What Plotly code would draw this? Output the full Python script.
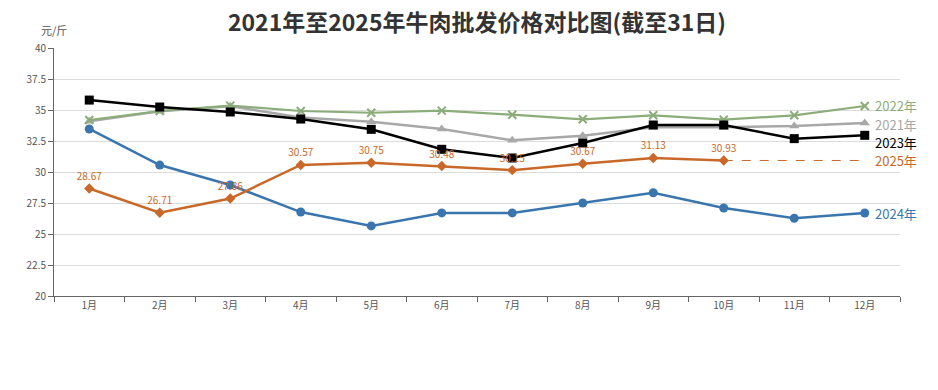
import plotly.graph_objects as go

months = ["1月", "2月", "3月", "4月", "5月", "6月", "7月", "8月", "9月", "10月", "11月", "12月"]
y2021 = [34.1, 34.9, 35.3, 34.4, 34.06, 33.47, 32.56, 32.93, 33.6, 33.6, 33.71, 33.95]
y2022 = [34.19, 34.92, 35.35, 34.92, 34.78, 34.95, 34.62, 34.25, 34.57, 34.22, 34.57, 35.32]
y2023 = [35.8, 35.24, 34.84, 34.27, 33.44, 31.83, 31.13, 32.34, 33.79, 33.79, 32.69, 32.96]
y2024 = [33.47, 30.56, 28.95, 26.77, 25.65, 26.7, 26.7, 27.5, 28.33, 27.1, 26.27, 26.69]
y2025 = [28.67, 26.71, 27.86, 30.57, 30.75, 30.48, 30.15, 30.67, 31.13, 30.93]
yticks = [20, 22.5, 25, 27.5, 30, 32.5, 35, 37.5, 40]

title = "2021年至2025年牛肉批发价格对比图(截至31日)"
unit = "元/斤"

c2021 = "#a8a8a8"
c2022 = "#8cac7a"
c2023 = "#000000"
c2024 = "#3a76ad"
c2025 = "#c8692a"

FONT = "Noto Sans CJK SC"

fig = go.Figure()

fig.add_trace(go.Scatter(x=months, y=y2021, mode="lines+markers", name="2021年",
                         line=dict(color=c2021, width=2.5),
                         marker=dict(symbol="triangle-up", size=9, color=c2021)))
fig.add_trace(go.Scatter(x=months, y=y2022, mode="lines+markers", name="2022年",
                         line=dict(color=c2022, width=2.2),
                         marker=dict(symbol="x-thin", size=8, color=c2022,
                                     line=dict(color=c2022, width=2))))
fig.add_trace(go.Scatter(x=months, y=y2024, mode="lines+markers", name="2024年",
                         line=dict(color=c2024, width=2.5),
                         marker=dict(symbol="circle", size=9, color=c2024)))
fig.add_trace(go.Scatter(x=months, y=y2023, mode="lines+markers", name="2023年",
                         line=dict(color=c2023, width=2.5),
                         marker=dict(symbol="square", size=9, color=c2023)))
# dashed continuation of 2025
fig.add_trace(go.Scatter(x=[months[len(y2025) - 1], months[-1]], y=[y2025[-1], y2025[-1]],
                         mode="lines", line=dict(color=c2025, width=1, dash="dash"),
                         showlegend=False, hoverinfo="skip"))
fig.add_trace(go.Scatter(x=months[:len(y2025)], y=y2025, mode="lines+markers+text", name="2025年",
                         line=dict(color=c2025, width=2.5),
                         marker=dict(symbol="diamond", size=8, color=c2025),
                         text=[f"{v:.2f}" for v in y2025], textposition="top center",
                         textfont=dict(family=FONT, size=10, color=c2025)))

# end labels (small vertical offsets so they don't collide)
ends = [("2022年", y2022[-1], c2022, 0.04), ("2021年", y2021[-1], c2021, -0.12),
        ("2023年", y2023[-1], c2023, -0.56), ("2025年", y2025[-1], c2025, 0.0),
        ("2024年", y2024[-1], c2024, 0)]
annotations = []
for lab, v, col, dy in ends:
    annotations.append(dict(x=months[-1], y=v + dy, xref="x", yref="y", text=lab,
                            showarrow=False, xanchor="left", yanchor="middle", xshift=8,
                            font=dict(family=FONT, size=13, color=col)))
annotations.append(dict(x=0, y=1, xref="paper", yref="paper", text=unit, showarrow=False,
                        xanchor="left", yanchor="middle", xshift=-15, yshift=18,
                        font=dict(family=FONT, size=11, color="#555")))

fig.update_layout(
    width=938, height=390,
    margin=dict(l=46, r=46, t=40, b=102),
    paper_bgcolor="white", plot_bgcolor="white",
    showlegend=False,
    annotations=annotations,
    font=dict(family=FONT, size=10, color="#555"),
    title=dict(text=f"<b>{title}</b>", x=0.5, xanchor="center", y=0.982, yanchor="top",
               pad=dict(t=0, b=0), font=dict(family=FONT, size=23, color="#333")),
    xaxis=dict(type="category", tickson="boundaries", ticks="outside", ticklen=5,
               tickcolor="#666", showline=True, linecolor="#666", linewidth=1,
               showgrid=False, range=[-0.5, len(months) - 0.5],
               tickfont=dict(family=FONT, size=10, color="#555")),
    yaxis=dict(range=[20, 40], tickvals=yticks, ticktext=[f"{t:g}" for t in yticks],
               ticks="outside", ticklen=5, tickcolor="#666", showline=True,
               linecolor="#666", linewidth=1, gridcolor="#dcdcdc", zeroline=False,
               tickfont=dict(family=FONT, size=10, color="#555")),
)

fig.write_html("out.html")
